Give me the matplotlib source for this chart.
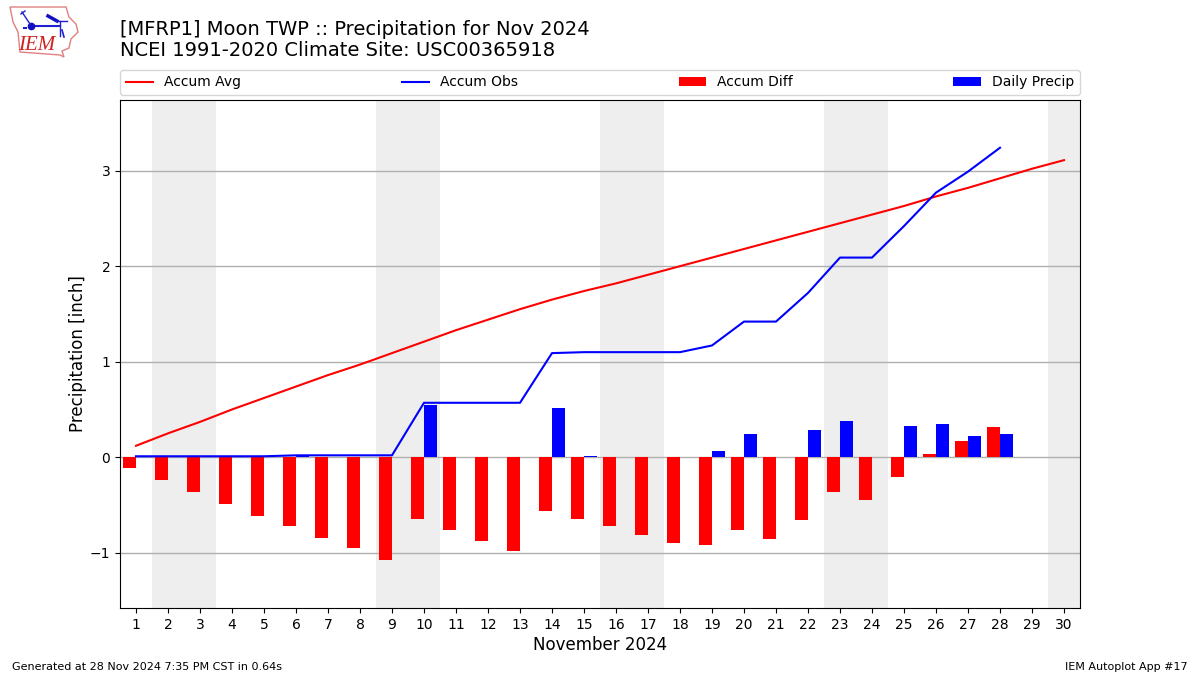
import matplotlib
matplotlib.use("Agg")
import matplotlib.pyplot as plt
from matplotlib.patches import Polygon

days = list(range(1, 31))
accum_avg = [0.12, 0.25, 0.37, 0.50, 0.62, 0.74, 0.86, 0.97, 1.09, 1.21,
             1.33, 1.44, 1.55, 1.65, 1.74, 1.82, 1.91, 2.00, 2.09, 2.18,
             2.27, 2.36, 2.45, 2.54, 2.63, 2.73, 2.82, 2.92, 3.02, 3.11]
obs_days = list(range(1, 29))
accum_obs = [0.01, 0.01, 0.01, 0.01, 0.01, 0.02, 0.02, 0.02, 0.02, 0.57,
             0.57, 0.57, 0.57, 1.09, 1.10, 1.10, 1.10, 1.10, 1.17, 1.42,
             1.42, 1.72, 2.09, 2.09, 2.42, 2.77, 2.99, 3.24]
accum_diff = [-0.115, -0.24, -0.367, -0.49, -0.618, -0.72, -0.85, -0.95, -1.08, -0.65,
              -0.764, -0.88, -0.98, -0.565, -0.65, -0.72, -0.817, -0.90, -0.92, -0.764,
              -0.86, -0.66, -0.367, -0.45, -0.21, 0.03, 0.17, 0.315]
daily_precip = [0, 0, 0, 0, 0, 0.01, 0, 0, 0, 0.545,
                0, 0, 0, 0.52, 0.01, 0, 0, 0, 0.07, 0.24,
                0, 0.285, 0.38, 0, 0.325, 0.35, 0.22, 0.24]
weekend_spans = [(1.5, 3.5), (8.5, 10.5), (15.5, 17.5), (22.5, 24.5), (29.5, 31.5)]
y_ticks = [-1, 0, 1, 2, 3]

fig = plt.figure(figsize=(12, 6.75), dpi=100)
ax = fig.add_axes([0.1, 0.0993, 0.8, 0.7526])

for a, b in weekend_spans:
    ax.axvspan(a, b, color="#EEEEEE", lw=0, zorder=0)
ax.plot(days, accum_avg, color="r", lw=1.5, label="Accum Avg", zorder=3)
ax.plot(obs_days, accum_obs, color="b", lw=1.5, label="Accum Obs", zorder=3)
ax.bar(obs_days, accum_diff, width=-0.4, align="edge", color="r", label="Accum Diff", zorder=2)
ax.bar(obs_days, daily_precip, width=0.4, align="edge", color="b", label="Daily Precip", zorder=2)

ax.set_xlim(0.5, 30.5)
ax.set_ylim(-1.578, 3.74)
ax.set_xticks(days)
ax.set_yticks(y_ticks)
ax.tick_params(labelsize=10)
ax.grid(axis="y", color="#b0b0b0", lw=1, zorder=1)
ax.set_axisbelow(True)
ax.set_xlabel("November 2024", fontsize=12, labelpad=3)
ax.set_ylabel("Precipitation [inch]", fontsize=12, labelpad=2)
ax.legend(loc="lower left", bbox_to_anchor=(0, 1.0098, 1, 0.05), ncol=4, mode="expand",
          borderaxespad=0, fontsize=10)

fig.text(0.1, 0.9105, "[MFRP1] Moon TWP :: Precipitation for Nov 2024\nNCEI 1991-2020 Climate Site: USC00365918",
         fontsize=14, ha="left", va="bottom", linespacing=1.17)
fig.text(0.01, 0.0045, "Generated at 28 Nov 2024 7:35 PM CST in 0.64s", fontsize=8, ha="left", va="bottom")
fig.text(0.99, 0.0045, "IEM Autoplot App #17", fontsize=8, ha="right", va="bottom")

# logo: drawn in pixel coordinates of the figure
logo = fig.add_axes([0, 0, 1, 1], facecolor="none", zorder=5)
logo.set_xlim(0, 1200)
logo.set_ylim(675, 0)
logo.axis("off")
logo.add_patch(Polygon([(10, 7), (66, 7), (69, 17), (76, 24), (78, 32), (71, 39), (69, 48),
                        (62, 51), (64, 57), (60, 55), (20, 52), (18, 32), (13, 22)],
                       closed=True, fc="white", ec="#e08080", lw=1))
logo.plot([31, 60], [26, 26], color="#2020d0", lw=1.5)
logo.plot([31], [26], "o", color="#1010c0", ms=4.5)
logo.plot([48, 57], [16, 21], color="#1010c0", lw=2.5)
logo.plot([56, 67], [21, 21], color="#2020d0", lw=1)
logo.plot([60, 60], [21, 36], color="#2020d0", lw=1)
logo.plot([62, 64], [30, 37], color="#2020d0", lw=1.2)
logo.plot([22, 30], [12, 24], color="#2020d0", lw=1)
logo.plot([21, 25], [14, 11], color="#2020d0", lw=1)
logo.plot([24, 26], [28, 28], color="#2020d0", lw=1.5)
logo.text(37, 45.5, "IEM", family="Liberation Serif", style="italic", color="#d02020",
          fontsize=15, ha="center", va="center")

fig.savefig("out.png", dpi=100)
